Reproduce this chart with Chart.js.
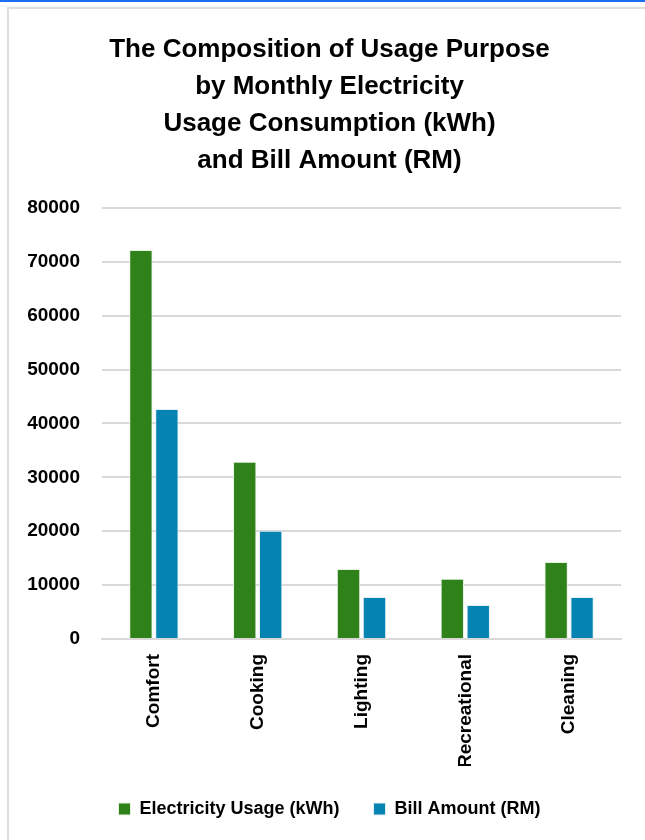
<!DOCTYPE html>
<html>
<head>
<meta charset="utf-8">
<script src="https://cdn.jsdelivr.net/npm/chart.js@4/dist/chart.umd.min.js"></script>
<style>
  html, body { margin: 0; padding: 0; background: #fff; }
  body { width: 645px; height: 840px; overflow: hidden; border-top: 2px solid #1a6ff0; box-sizing: border-box; }
  .frame { position: absolute; left: 7px; top: 7px; width: 638px; height: 833px; border-left: 2px solid #dedede; border-top: 2px solid #dedede; box-sizing: border-box; }
  .frame canvas { display: block; }
</style>
</head>
<body>
<div class="frame"><canvas id="chart"></canvas></div>
<script>
const categories = ['Comfort', 'Cooking', 'Lighting', 'Recreational', 'Cleaning'];
const usageKwh = [72200, 32900, 13000, 11200, 14300];
const billRm = [42700, 20100, 7800, 6300, 7800];
const titleLines = ['The Composition of Usage Purpose', 'by Monthly Electricity', 'Usage Consumption (kWh)', 'and Bill Amount (RM)'];

const FONT = "'Liberation Sans Narrow', 'Arial Narrow', 'Liberation Sans', sans-serif";

// the y labels sit partly in the left padding, so widen their clip box
const widenYAxis = {
  id: 'widenYAxis',
  afterLayout(chart) {
    chart.scales.y.left = 0;
  },
};

const ctx = document.getElementById('chart').getContext('2d');
new Chart(ctx, {
  type: 'bar',
  data: {
    labels: categories,
    datasets: [
      {
        label: 'Electricity Usage (kWh)',
        data: usageKwh,
        backgroundColor: '#2e8219',
        borderColor: '#e6f0e3',
        borderWidth: 1,
      },
      {
        label: 'Bill Amount (RM)',
        data: billRm,
        backgroundColor: '#0584b4',
        borderColor: '#e3eff4',
        borderWidth: 1,
      },
    ],
  },
  plugins: [widenYAxis],
  options: {
    responsive: true,
    maintainAspectRatio: false,
    animation: false,
    datasets: {
      bar: { categoryPercentage: 0.5, barPercentage: 0.9 },
    },
    layout: { padding: { left: 29, right: 24, top: 0, bottom: 12 } },
    plugins: {
      title: {
        display: true,
        text: titleLines,
        color: '#000',
        font: { family: FONT, size: 26, weight: 'bold', lineHeight: 1.423 },
        padding: { top: 22, bottom: 29 },
      },
      legend: {
        position: 'bottom',
        labels: {
          color: '#000',
          font: { family: FONT, size: 18, weight: 'bold' },
          boxWidth: 12,
          boxHeight: 12,
          padding: 34,
        },
      },
      tooltip: { enabled: false },
    },
    scales: {
      x: {
        grid: { display: false },
        border: { color: '#d9d9d9', width: 2 },
        ticks: {
          color: '#000',
          font: { family: FONT, size: 19, weight: 'bold' },
          minRotation: 90,
          maxRotation: 90,
          padding: 7,
        },
        afterFit(scale) { scale.height = 127; },
      },
      y: {
        min: 0,
        max: 80000,
        border: { display: false },
        grid: { color: '#d9d9d9', lineWidth: 2, drawTicks: false },
        ticks: {
          stepSize: 10000,
          color: '#000',
          font: { family: FONT, size: 19, weight: 'bold' },
          padding: 22,
          callback: (v) => String(v),
        },
        afterFit(scale) { scale.width = 64; },
      },
    },
  },
});
</script>
</body>
</html>
